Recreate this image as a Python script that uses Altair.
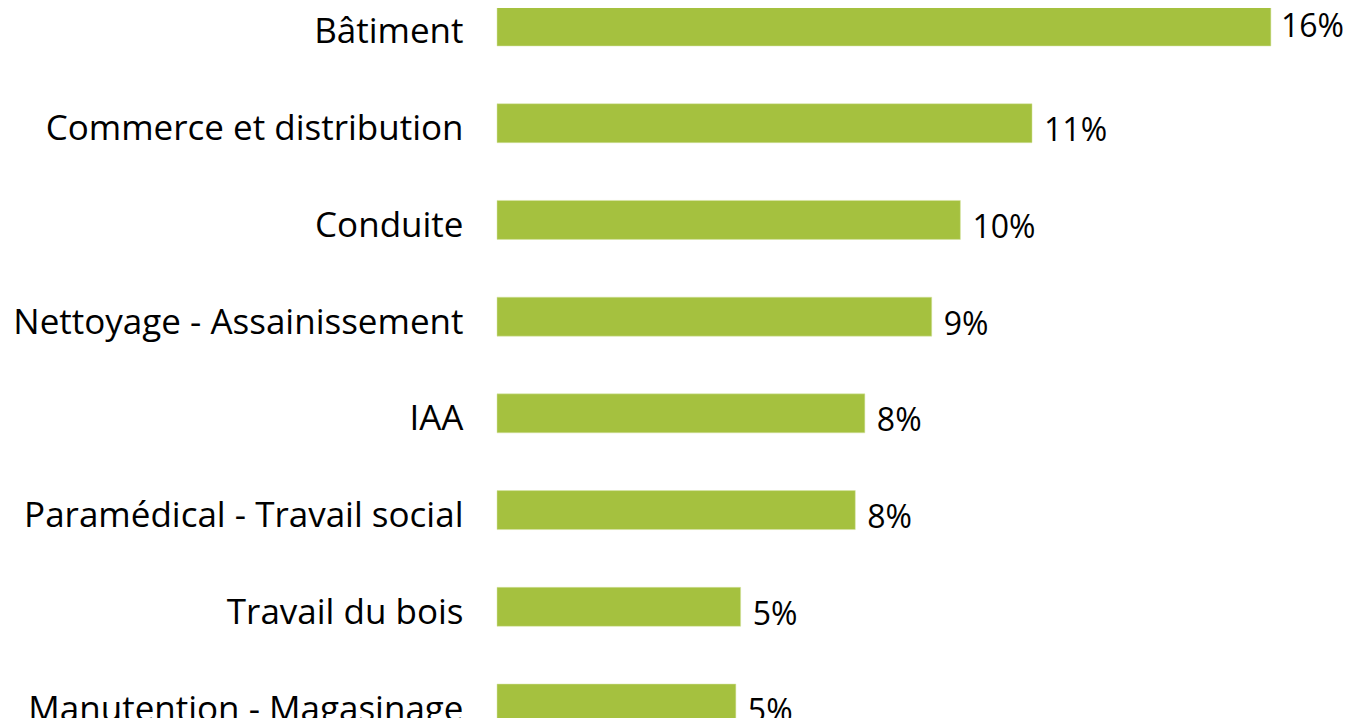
import altair as alt
import pandas as pd

categories = [
    "Bâtiment",
    "Commerce et distribution",
    "Conduite",
    "Nettoyage - Assainissement",
    "IAA",
    "Paramédical - Travail social",
    "Travail du bois",
    "Manutention - Magasinage",
]
values = [16.2, 11.2, 9.7, 9.1, 7.7, 7.5, 5.1, 5.0]
labels = ["16%", "11%", "10%", "9%", "8%", "8%", "5%", "5%"]

df = pd.DataFrame({"category": categories, "value": values, "label": labels})

FONT = "Open Sans"
FS = 35
VFS = 32

y_enc = alt.Y(
    "category:N",
    sort=categories,
    title=None,
    scale=alt.Scale(range=[-1, 715], paddingInner=0.597, paddingOuter=0),
    axis=alt.Axis(
        domain=False,
        ticks=False,
        grid=False,
        labelFont=FONT,
        labelFontSize=FS,
        labelColor="#000000",
        labelPadding=34,
        labelLimit=600,
        labelOffset=6,
        labelBaseline="middle",
    ),
)
x_enc = alt.X(
    "value:Q",
    scale=alt.Scale(domain=[0, 17.5], nice=False),
    axis=None,
)

bars = alt.Chart(df).mark_bar(color="#A5C13F", stroke="#D6E4A6", strokeWidth=0.5).encode(
    x=x_enc, y=y_enc
)

text_first = alt.Chart(df).transform_filter(
    alt.datum.category == "Bâtiment"
).mark_text(
    align="left", baseline="middle", dx=10, dy=1, font=FONT, fontSize=VFS, color="#000000"
).encode(x=x_enc, y=y_enc, text="label:N")

text_rest = alt.Chart(df).transform_filter(
    alt.datum.category != "Bâtiment"
).mark_text(
    align="left", baseline="middle", dx=12, dy=8, font=FONT, fontSize=VFS, color="#000000"
).encode(x=x_enc, y=y_enc, text="label:N")

chart = alt.layer(bars, text_first, text_rest).properties(
    width=836,
    height=710,
    autosize=alt.AutoSizeParams(type="none"),
    padding={"left": 489, "right": 11, "top": 0, "bottom": 0},
).configure(background="#ffffff").configure_view(strokeWidth=0, stroke=None)

chart.save("out.html", embed_options={"renderer": "svg", "actions": False})
